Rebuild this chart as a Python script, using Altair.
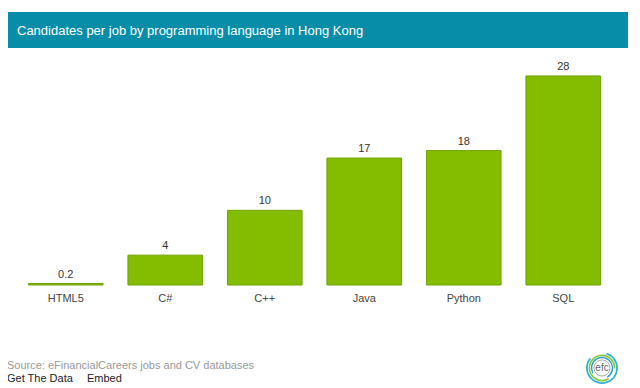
import altair as alt
import pandas as pd

languages = ["HTML5", "C#", "C++", "Java", "Python", "SQL"]
candidates = [0.2, 4, 10, 17, 18, 28]
labels = ["0.2", "4", "10", "17", "18", "28"]

title_text = "Candidates per job by programming language in Hong Kong"
source_text = "Source: eFinancialCareers jobs and CV databases"

df = pd.DataFrame({"lang": languages, "value": candidates, "label": labels})

FONT = "Liberation Sans"

base = alt.Chart(df)

x_enc = alt.X("lang:N", sort=languages,
              scale=alt.Scale(paddingInner=0.25, paddingOuter=0.125),
              axis=alt.Axis(title=None, labelAngle=0, domain=False, ticks=False,
                            labelPadding=7, labelFontSize=11, labelColor="#444444",
                            labelFont=FONT, grid=False))
y_enc = alt.Y("value:Q", scale=alt.Scale(domain=[0, 30], nice=False),
              axis=None)

bars = base.mark_bar(color="#84bd00", stroke="#6fa300", strokeWidth=1).encode(
    x=x_enc, y=y_enc)

bar_text = base.mark_text(dy=-9, fontSize=11, font=FONT, color="#333333").encode(
    x=alt.X("lang:N", sort=languages), y="value:Q", text="label:N")

banner = alt.Chart(pd.DataFrame({"t": [title_text]})).mark_rect(color="#088da9").encode(
    x=alt.value(-9), x2=alt.value(617), y=alt.value(-49), y2=alt.value(-13))

title = alt.Chart(pd.DataFrame({"t": [title_text]})).mark_text(
    align="left", baseline="middle", fontSize=13, font=FONT, color="white").encode(
    x=alt.value(1), y=alt.value(-30), text="t:N")

source = alt.Chart(pd.DataFrame({"t": [source_text]})).mark_text(
    align="left", baseline="middle", fontSize=11, font=FONT, color="#999999").encode(
    x=alt.value(-9), y=alt.value(305), text="t:N")

getdata = alt.Chart(pd.DataFrame({"t": ["Get The Data"]})).mark_text(
    align="left", baseline="middle", fontSize=11, font=FONT, color="#222222").encode(
    x=alt.value(-9), y=alt.value(318), text="t:N")

embed = alt.Chart(pd.DataFrame({"t": ["Embed"]})).mark_text(
    align="left", baseline="middle", fontSize=11, font=FONT, color="#222222").encode(
    x=alt.value(71), y=alt.value(318), text="t:N")

# logo rings
logo_df = pd.DataFrame({
    "r": [16, 13.5, 11.2],
    "r2": [14.2, 11.8, 9.8],
    "t1": [0.3, 2.6, 4.2],
    "t2": [5.4, 7.9, 8.9],
    "c": ["#35b1d3", "#8cc63f", "#2f9fc1"],
})
logo_rings = alt.Chart(logo_df).mark_arc().encode(
    x=alt.value(586), y=alt.value(307),
    radius=alt.Radius("r:Q", scale=None), radius2=alt.Radius2("r2:Q"),
    theta=alt.Theta("t1:Q", scale=None), theta2=alt.Theta2("t2:Q"),
    color=alt.Color("c:N", scale=None, legend=None))
logo_inner = alt.Chart(pd.DataFrame({"t": ["efc"]})).mark_point(
    shape="circle", size=260, filled=False, color="#888888", strokeWidth=1).encode(
    x=alt.value(586), y=alt.value(307))
logo_text = alt.Chart(pd.DataFrame({"t": ["efc"]})).mark_text(
    fontSize=10, font=FONT, color="#666666", baseline="middle").encode(
    x=alt.value(586), y=alt.value(307), text="t:N")

chart = alt.layer(banner, title, bars, bar_text, source, getdata, embed,
                  logo_rings, logo_inner, logo_text).properties(
    width=597, height=224,
    autosize=alt.AutoSizeParams(type="none"),
    padding={"left": 8, "top": 53, "right": 15, "bottom": 103},
    background="white",
).configure_view(stroke=None)

chart.save("out.html", embed_options={"renderer": "svg", "actions": False})
